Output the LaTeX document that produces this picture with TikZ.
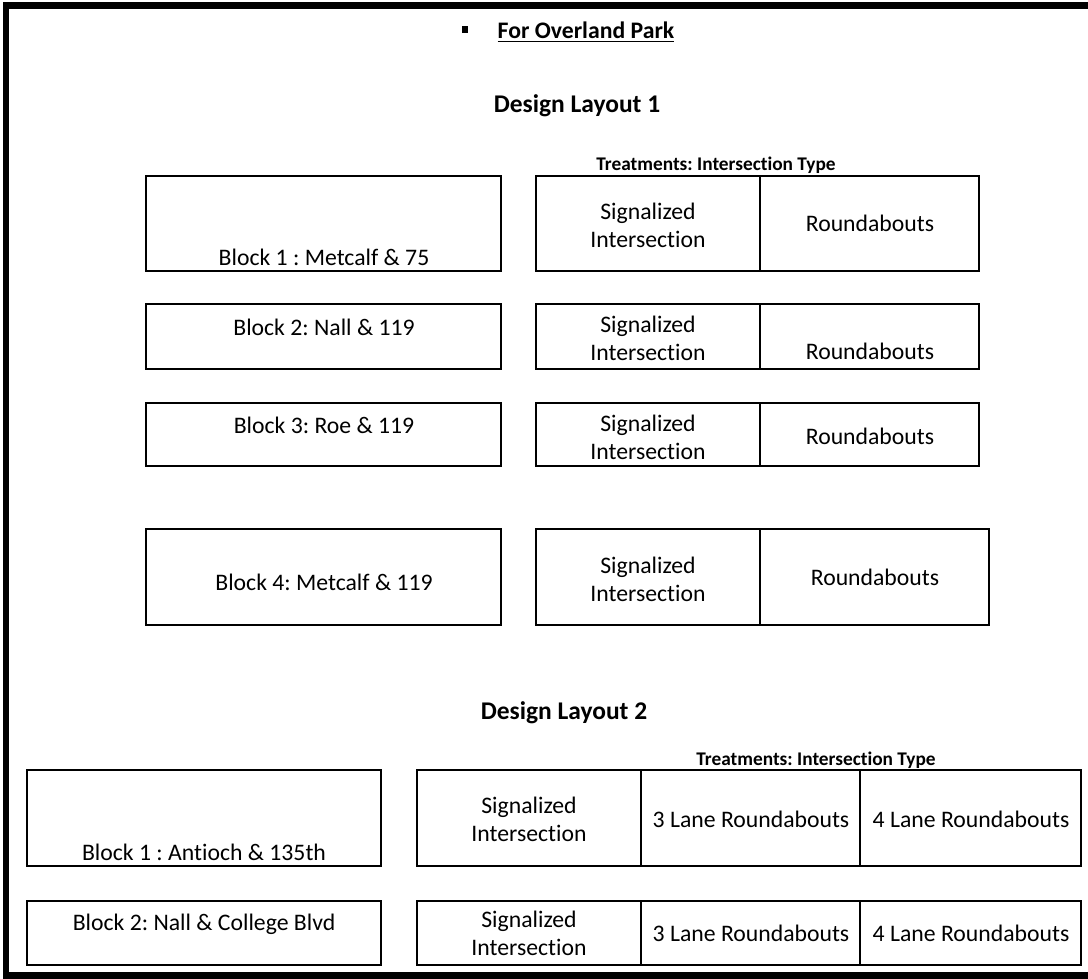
\documentclass[tikz,border=0pt]{standalone}
\usepackage{fontspec}
\setmainfont{Carlito}[Ligatures={NoCommon,NoRare}]
\frenchspacing

\newcommand{\cellfont}{\fontsize{13.5}{15.9}\selectfont}
\newcommand{\headfont}{\fontsize{14.5}{17}\selectfont\bfseries}
\newcommand{\parkfont}{\fontsize{13.5}{16}\selectfont\bfseries}
\newcommand{\smallhead}{\fontsize{11}{13}\selectfont\bfseries}

\begin{document}
\begin{tikzpicture}[x=0.02cm, y=-0.02cm,
	cell/.style={font=\cellfont, anchor=base, inner sep=0pt, yshift=-1pt},
	twoline/.style={font=\cellfont, align=center, anchor=center, inner sep=0pt, yshift=-1pt},
	head/.style={font=\headfont, anchor=base, inner sep=0pt, yshift=-1pt},
	treat/.style={font=\smallhead, anchor=base, inner sep=0pt, yshift=-1.6pt}]

	\useasboundingbox (0,0) rectangle (1088,979);

	% page frame
	\draw [line width=0.13cm] (1100,5.5) -- (6,5.5) -- (6,975.5) -- (1100,975.5);

	% heading
	\fill (462,26) rectangle (468,33);
	\node [head, font=\parkfont] (park) at (586,36.5) {\underline{For Overland Park}};

	% design layout 1
	\node [head] (lay1) at (577,111) {Design Layout 1};
	\node [treat] (treat1) at (716,168) {Treatments: Intersection Type};

	\foreach \top/\bot/\rgt in {176/271/979, 304/369/979, 403/466/979, 529/625/989} {
		\draw [line width=0.7pt] (146,\top) rectangle (501,\bot);
		\draw [line width=0.7pt] (536,\top) rectangle (\rgt,\bot);
		\draw [line width=0.7pt] (760,\top) -- (760,\bot);
	}

	\node [cell] (A1) at (324,264) {Block 1 : Metcalf \& 75};
	\node [twoline] (A2) at (648,224) {Signalized\\Intersection};
	\node [cell] (A3) at (870,230) {Roundabouts};

	\node [cell] (B1) at (324,334) {Block 2: Nall \& 119};
	\node [twoline] (B2) at (648,337) {Signalized\\Intersection};
	\node [cell] (B3) at (870,358) {Roundabouts};

	\node [cell] (C1) at (324,432) {Block 3: Roe \& 119};
	\node [twoline] (C2) at (648,436) {Signalized\\Intersection};
	\node [cell] (C3) at (870,443) {Roundabouts};

	\node [cell] (D1) at (324,589) {Block 4: Metcalf \& 119};
	\node [twoline] (D2) at (648,578) {Signalized\\Intersection};
	\node [cell] (D3) at (875,584) {Roundabouts};

	% design layout 2
	\node [head] (lay2) at (564,718) {Design Layout 2};
	\node [treat] (treat2) at (816,763) {Treatments: Intersection Type};

	\foreach \top/\bot in {770/866, 901/965} {
		\draw [line width=0.7pt] (27,\top) rectangle (381,\bot);
		\draw [line width=0.7pt] (417,\top) rectangle (1081,\bot);
		\draw [line width=0.7pt] (641,\top) -- (641,\bot);
		\draw [line width=0.7pt] (860,\top) -- (860,\bot);
	}

	\node [cell] (E1) at (204,859) {Block 1 : Antioch \& 135th};
	\node [twoline] (E2) at (529,818) {Signalized\\Intersection};
	\node [cell] (E3) at (751,826) {3 Lane Roundabouts};
	\node [cell] (E4) at (971,826) {4 Lane Roundabouts};

	\node [cell] (F1) at (204,929) {Block 2: Nall \& College Blvd};
	\node [twoline] (F2) at (529,932) {Signalized\\Intersection};
	\node [cell] (F3) at (751,940) {3 Lane Roundabouts};
	\node [cell] (F4) at (971,940) {4 Lane Roundabouts};

\end{tikzpicture}
\end{document}
